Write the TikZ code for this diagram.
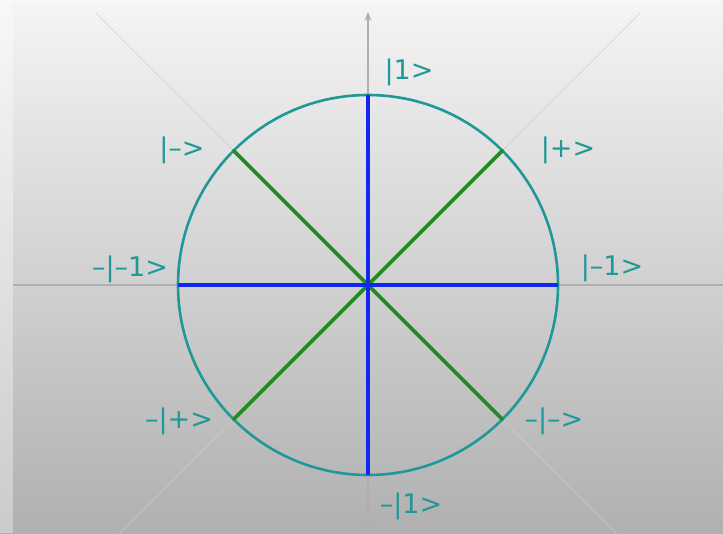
\documentclass[tikz,border=0pt]{standalone}
\usepackage{fontspec}
\setmainfont{DejaVu Sans}
\usetikzlibrary{arrows.meta}
\definecolor{teal1}{RGB}{32,152,152}
\definecolor{blue1}{RGB}{20,40,235}
\definecolor{green1}{RGB}{35,140,30}
\definecolor{axisgray}{RGB}{175,175,175}
\tikzset{
  lbl/.style={text=teal1, font=\fontsize{27}{30}\selectfont, inner sep=0pt},
  axisline/.style={draw=axisgray, line width=1.4pt},
  diagline/.style={draw=gray!40, line width=0.6pt},
  blueline/.style={draw=blue1, line width=3.8pt},
  greenline/.style={draw=green1, line width=3.8pt, line cap=round},
  circ/.style={draw=teal1, line width=2.6pt}
}
\begin{document}
\begin{tikzpicture}[x=1pt,y=-1pt]
\useasboundingbox (0,0) rectangle (723,533);
\shade[top color=gray!8, middle color=gray!28, bottom color=gray!62] (0,0) rectangle (723,533);
\fill[white, opacity=0.35] (0,0) rectangle (13,533);
\fill[white, opacity=0.35] (13,0) rectangle (723,3);
\coordinate (O) at (368,285);
\coordinate (N) at (368,95);
\coordinate (S) at (368,475);
\coordinate (W) at (178,285);
\coordinate (E) at (558,285);
% diagonal faint lines
\coordinate (d1) at (96,13);
\coordinate (d2) at (640,13);
\coordinate (d3) at (96,557);
\coordinate (d4) at (640,557);
\draw[diagline] (d1) -- (d4);
\draw[diagline] (d2) -- (d3);
% axes
\coordinate (ax1) at (13,285);
\coordinate (ax2) at (723,285);
\coordinate (ay1) at (368,533);
\coordinate (ay2) at (368,12);
\draw[axisline] (ax1) -- (ax2);
\draw[axisline, -{Stealth[length=9pt,width=7pt]}] (ay1) -- (ay2);
% circle
\node[circ, circle, minimum size=380pt, inner sep=0pt] (C) at (O) {};
% diagonal points
\coordinate (pNE) at (502.4,150.6);
\coordinate (pNW) at (233.6,150.6);
\coordinate (pSE) at (502.4,419.4);
\coordinate (pSW) at (233.6,419.4);
\draw[greenline] (pNW) -- (pSE);
\draw[greenline] (pNE) -- (pSW);
\draw[blueline] (N) -- (S);
\draw[blueline] (W) -- (E);
% labels
\node[lbl] (l1) at (409,72) {|1>};
\node[lbl] (lm) at (182,150) {|–>};
\node[lbl] (lp) at (568,150) {|+>};
\node[lbl] (lmm1) at (130,269) {–|–1>};
\node[lbl] (lm1) at (612,268) {|–1>};
\node[lbl] (lmp) at (179,421) {–|+>};
\node[lbl] (lmm) at (554,421) {–|–>};
\node[lbl] (lm1b) at (411,506) {–|1>};
\end{tikzpicture}
\end{document}
